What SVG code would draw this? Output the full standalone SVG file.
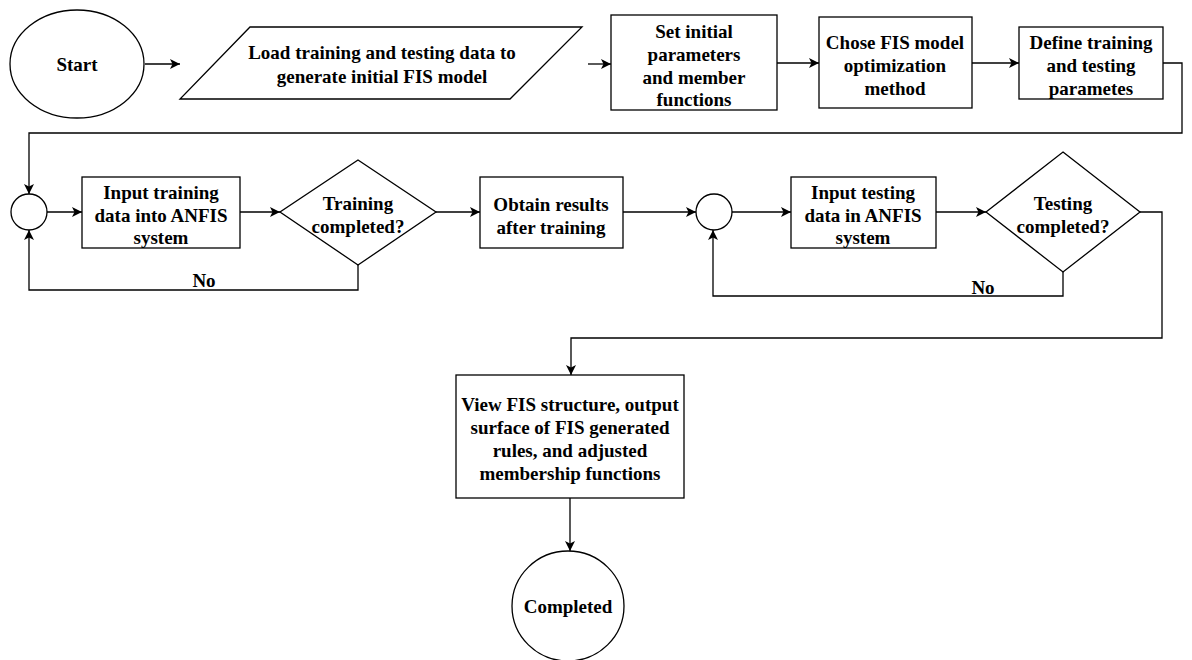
<svg xmlns="http://www.w3.org/2000/svg" width="1192" height="660" viewBox="0 0 1192 660">
  <style>
    .shape { fill: #ffffff; stroke: #000000; stroke-width: 1.3; }
    .wire { fill: none; stroke: #000000; stroke-width: 1.3; }
    text { font-family: "Liberation Serif", "Times New Roman", serif; font-weight: bold; font-size: 19px; fill: #000000; text-anchor: middle; }
  </style>
  <defs>
    <marker id="arrow" viewBox="0 0 10 10" refX="10" refY="5" markerWidth="10" markerHeight="10" markerUnits="userSpaceOnUse" orient="auto">
      <path d="M0,0 L10,5 L0,10 L2.5,5 Z" fill="#000000"/>
    </marker>
  </defs>
  <rect width="1192" height="660" fill="#ffffff"/>

  <!-- connectors -->
  <g id="connectors">
    <path class="wire" d="M145,64 L180,64" marker-end="url(#arrow)"/>
    <path class="wire" d="M588,64 L611,64" marker-end="url(#arrow)"/>
    <path class="wire" d="M777,63 L819,63" marker-end="url(#arrow)"/>
    <path class="wire" d="M972,63 L1019,63" marker-end="url(#arrow)"/>
    <path class="wire" d="M1163,63 L1182,63 L1182,133 L29,133 L29,194" marker-end="url(#arrow)"/>
    <path class="wire" d="M47,212 L82,212" marker-end="url(#arrow)"/>
    <path class="wire" d="M240,212 L280,212" marker-end="url(#arrow)"/>
    <path class="wire" d="M436,212 L480,212" marker-end="url(#arrow)"/>
    <path class="wire" d="M358,265 L358,290 L29,290 L29,230" marker-end="url(#arrow)"/>
    <path class="wire" d="M623,212 L696,212" marker-end="url(#arrow)"/>
    <path class="wire" d="M732,212 L791,212" marker-end="url(#arrow)"/>
    <path class="wire" d="M936,212 L986,212" marker-end="url(#arrow)"/>
    <path class="wire" d="M1063,272 L1063,296 L713,296 L713,230" marker-end="url(#arrow)"/>
    <path class="wire" d="M1140,212 L1162,212 L1162,338 L571,338 L571,375" marker-end="url(#arrow)"/>
    <path class="wire" d="M570,498 L570,551" marker-end="url(#arrow)"/>
    <text x="204" y="287">No</text>
    <text x="983" y="294">No</text>
  </g>

  <g id="start">
    <ellipse class="shape" cx="77" cy="64" rx="67" ry="54"/>
    <text x="77" y="71">Start</text>
  </g>

  <g id="load-data">
    <polygon class="shape" points="250,27 582,27 510,99 180,99"/>
    <text x="382" y="59">Load training and testing data to</text>
    <text x="382" y="83">generate initial FIS model</text>
  </g>

  <g id="set-params">
    <rect class="shape" x="611" y="15" width="166" height="95"/>
    <text x="694" y="38">Set initial</text>
    <text x="694" y="61">parameters</text>
    <text x="694" y="84">and member</text>
    <text x="694" y="106">functions</text>
  </g>

  <g id="choose-method">
    <rect class="shape" x="819" y="17" width="153" height="91"/>
    <text x="895" y="49">Chose FIS model</text>
    <text x="895" y="72">optimization</text>
    <text x="895" y="95">method</text>
  </g>

  <g id="define-params">
    <rect class="shape" x="1019" y="27" width="144" height="72"/>
    <text x="1091" y="49">Define training</text>
    <text x="1091" y="72">and testing</text>
    <text x="1091" y="95">parametes</text>
  </g>

  <g id="join-training">
    <circle class="shape" cx="29" cy="212" r="18"/>
  </g>

  <g id="input-training">
    <rect class="shape" x="82" y="177" width="158" height="71"/>
    <text x="161" y="199">Input training</text>
    <text x="161" y="222">data into ANFIS</text>
    <text x="161" y="244">system</text>
  </g>

  <g id="training-done">
    <polygon class="shape" points="358,160 436,212 358,265 280,212"/>
    <text x="358" y="210">Training</text>
    <text x="358" y="233">completed?</text>
  </g>

  <g id="obtain-results">
    <rect class="shape" x="480" y="177" width="143" height="71"/>
    <text x="551" y="211">Obtain results</text>
    <text x="551" y="234">after training</text>
  </g>

  <g id="join-testing">
    <circle class="shape" cx="714" cy="212" r="18"/>
  </g>

  <g id="input-testing">
    <rect class="shape" x="791" y="177" width="145" height="71"/>
    <text x="863" y="199">Input testing</text>
    <text x="863" y="222">data in ANFIS</text>
    <text x="863" y="244">system</text>
  </g>

  <g id="testing-done">
    <polygon class="shape" points="1063,152 1140,212 1063,272 986,212"/>
    <text x="1063" y="210">Testing</text>
    <text x="1063" y="233">completed?</text>
  </g>

  <g id="view-fis">
    <rect class="shape" x="456" y="375" width="228" height="123"/>
    <text x="570" y="411">View FIS structure, output</text>
    <text x="570" y="434">surface of FIS generated</text>
    <text x="570" y="457">rules, and adjusted</text>
    <text x="570" y="480">membership functions</text>
  </g>

  <g id="completed">
    <ellipse class="shape" cx="568" cy="606" rx="56" ry="55"/>
    <text x="568" y="613">Completed</text>
  </g>
</svg>
